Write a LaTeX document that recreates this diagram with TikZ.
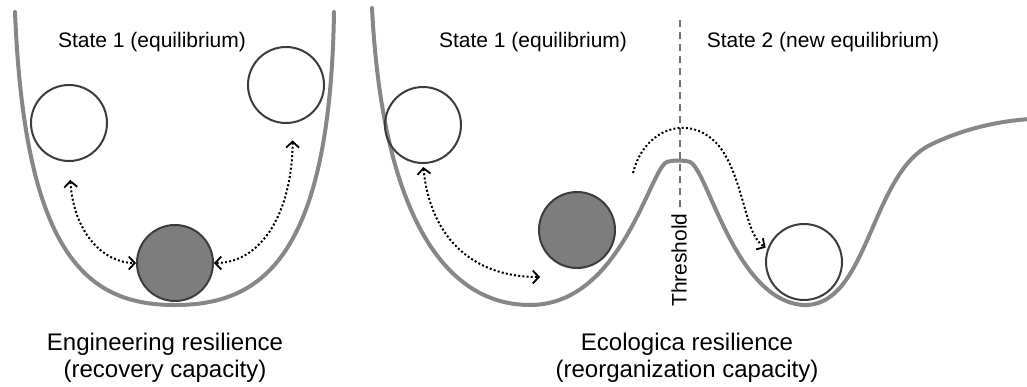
\documentclass[tikz,border=0pt]{standalone}
\usepackage{fontspec}
\setmainfont{Liberation Sans}
\usetikzlibrary{arrows.meta}
\definecolor{landgray}{HTML}{878787}
\definecolor{ballgray}{HTML}{7D7D7D}
\definecolor{rimgray}{HTML}{3C3C3C}
\tikzstyle{landscape}=[landgray, line width=4pt, line cap=round]
\tikzstyle{ball}=[circle, draw=rimgray, line width=2pt, minimum size=76pt, inner sep=0pt]
\tikzstyle{stone}=[ball, fill=ballgray]
\tikzstyle{move}=[black, line width=2pt, dash pattern=on 2pt off 2.2pt, arrows={-Straight Barb[length=6pt,width=13pt,line width=1.8pt]}]
\tikzstyle{twoway}=[move, arrows={Straight Barb[length=6pt,width=13pt,line width=1.8pt]-Straight Barb[length=6pt,width=13pt,line width=1.8pt]}]
\tikzstyle{statetext}=[font=\fontsize{21}{25}\selectfont]
\tikzstyle{titletext}=[font=\fontsize{24}{27}\selectfont, align=center]

\begin{document}
\begin{tikzpicture}[x=1pt, y=-1pt]
				\useasboundingbox (0,0) rectangle (1027,386);
				\draw[landscape] (15,12) .. controls (25,260) and (90,305) .. (175,305) .. controls (260,305) and (330,260) .. (334,12);
				\node[ball] (wl1) at (69,123) {};
				\node[ball] (wr1) at (286,85) {};
				\node[stone] (g1) at (175,263) {};
				\node[statetext] (s1) at (152,42) {State 1 (equilibrium)};
				\node[titletext] (eng) at (165,358) {Engineering resilience\\(recovery capacity)};
				\draw[twoway, shorten <=18pt] (wl1.south) .. controls (74,235) and (105,263) .. (g1.west);
				\draw[twoway, shorten <=17pt] (wr1.-80) .. controls (292,215) and (260,263) .. (g1.east);
				\draw[landscape] (372,8) .. controls (382,205) and (440,305) .. (530,305) .. controls (622,305) and (650,168) .. (667,162) .. controls (673,160) and (684,160) .. (690,162) .. controls (708,170) and (735,300) .. (803,305) .. controls (868,308) and (870,175) .. (930,145) .. controls (965,128) and (1000,121) .. (1030,119);
				\node[ball] (el) at (423,125) {};
				\node[stone] (eg) at (577,230) {};
				\node[ball] (en) at (804,262) {};
				\coordinate (slide) at (540,277);
				\coordinate (kick) at (633,173);
				\coordinate (top) at (680,20);
				\coordinate (cut) at (680,212);
				\draw[landgray!85!black, line width=1.5pt, dash pattern=on 7pt off 5pt] (top) -- (cut);
				\node[statetext, rotate=90] (thr) at (679,260) {Threshold};
				\node[statetext] (s1e) at (533,42) {State 1 (equilibrium)};
				\node[statetext] (s2e) at (823,42) {State 2 (new equilibrium)};
				\node[titletext] (eco) at (687,358) {Ecologica resilience\\(reorganization capacity)};
				\draw[twoway, shorten <=3pt] (el.south) .. controls (430,235) and (470,277) .. (slide);
				\draw[move, shorten >=2pt] (kick) .. controls (645,125) and (695,112) .. (722,150) .. controls (745,185) and (745,235) .. (en.160);
			\end{tikzpicture}
\end{document}
